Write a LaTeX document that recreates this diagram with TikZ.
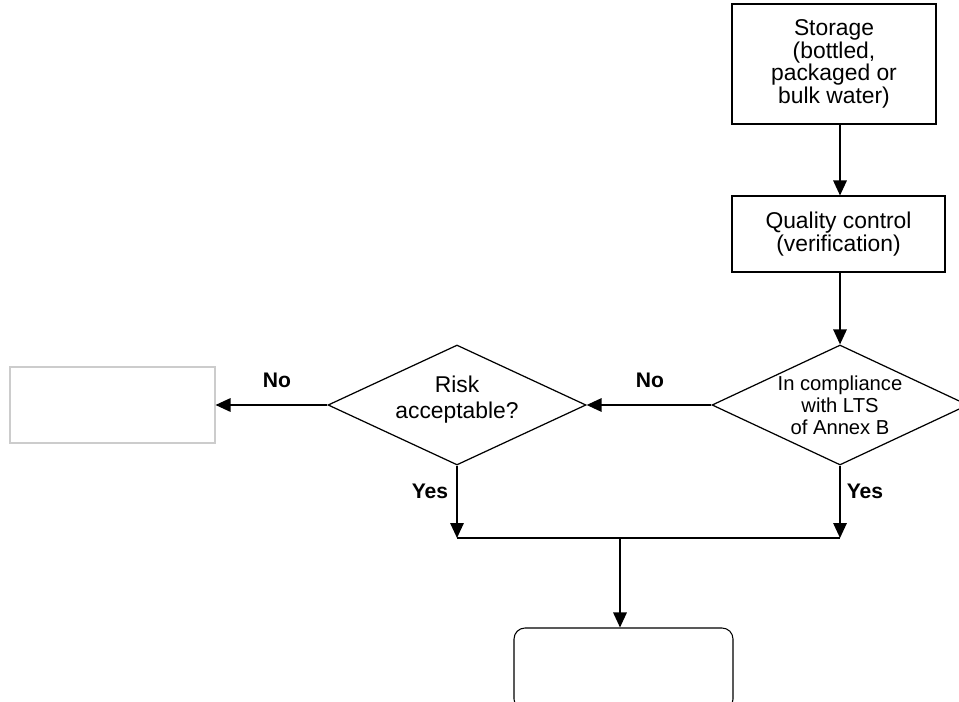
\documentclass[tikz,border=0pt]{standalone}
\usepackage{fontspec}
\setmainfont{Liberation Sans}
\usepackage{tikz}
\usetikzlibrary{shapes.geometric,arrows.meta,positioning,calc}

\begin{document}
\begin{tikzpicture}[
  procbox/.style={draw, rectangle, line width=0.6pt, align=center, font=\fontsize{13}{12.8}\selectfont},
  decision/.style={draw, diamond, line width=0.7pt, inner sep=0pt},
  dtext/.style={align=center, font=\fontsize{11.5}{12.5}\selectfont},
  answer/.style={font=\bfseries\fontsize{12}{14}\selectfont},
  flow/.style={-{Triangle[length=0.3cm, width=0.27cm]}, line width=0.9pt},
  busline/.style={line width=0.9pt}
]
\useasboundingbox (0,0) rectangle (19.18,-14.04);
\clip (0,0) rectangle (19.18,-14.04);
\node[procbox, minimum width=4.08cm, minimum height=2.4cm] (store) at (16.68,-1.28) {Storage\\(bottled,\\packaged or\\bulk water)};
\node[procbox, minimum width=4.26cm, minimum height=1.52cm] (qc) at (16.77,-4.68) {Quality control\\(verification)};
\node[decision, minimum width=5.12cm, minimum height=2.4cm] (comply) at (16.8,-8.1) {};
\node[dtext] (complyt) at (comply) {In compliance\\with LTS\\of Annex B};
\node[decision, minimum width=5.16cm, minimum height=2.4cm] (risk) at (9.14,-8.1) {};
\node[dtext, font=\fontsize{13}{14.7}\selectfont] (riskt) at ($(risk)+(0,0.1)$) {Risk\\acceptable?};
\node[procbox, draw=gray!40, minimum width=4.1cm, minimum height=1.52cm] (reject) at (2.25,-8.1) {};
\node[procbox, rounded corners=0.22cm, minimum width=4.38cm, minimum height=1.64cm] (accept) at (12.47,-13.38) {};
\coordinate (jl) at (9.14,-10.76);
\coordinate (jr) at (16.8,-10.76);
\coordinate (jm) at (12.4,-10.76);
\draw[flow] (store.south -| comply.north) -- (qc.north -| comply.north);
\draw[flow] (qc.south -| comply.north) -- (comply.north);
\draw[flow] (comply.west) -- (risk.east);
\draw[flow] (risk.west) -- (reject.east);
\draw[flow] (risk.south) -- (jl);
\draw[flow] (comply.south) -- (jr);
\draw[busline] (jl) -- (jr);
\draw[flow] (jm) -- (jm |- accept.north);
\node[answer] (no1) at (13.0,-7.6) {No};
\node[answer] (no2) at (5.54,-7.6) {No};
\node[answer] (yes1) at (8.6,-9.82) {Yes};
\node[answer] (yes2) at (17.3,-9.82) {Yes};
\end{tikzpicture}
\end{document}
